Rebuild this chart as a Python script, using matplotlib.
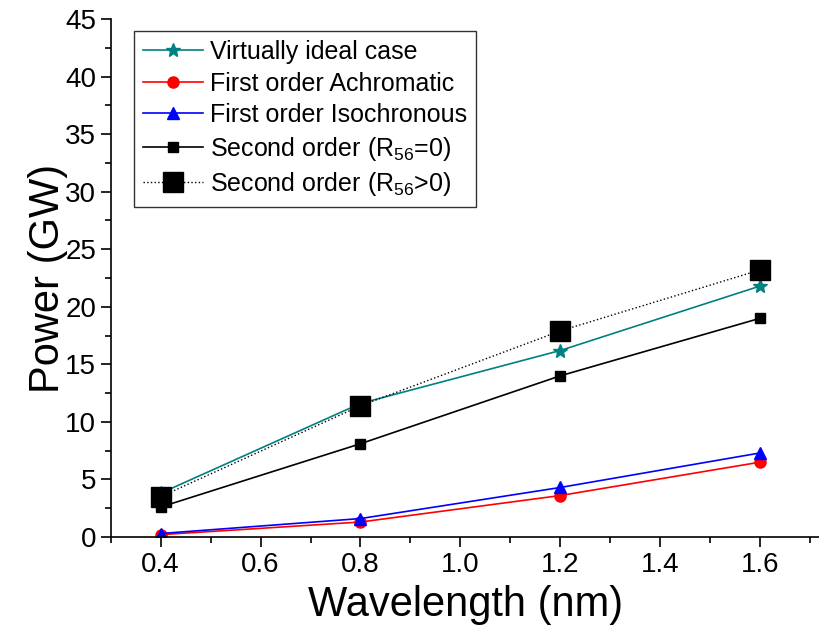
import matplotlib
matplotlib.use("Agg")
import matplotlib.pyplot as plt
from matplotlib.ticker import MultipleLocator

plt.rcParams['font.family'] = ['Liberation Sans', 'DejaVu Sans']
plt.rcParams['mathtext.fontset'] = 'custom'
plt.rcParams['mathtext.rm'] = 'Liberation Sans'

wavelength = [0.4, 0.8, 1.2, 1.6]
ideal = [3.8, 11.6, 16.2, 21.8]
achromatic = [0.2, 1.3, 3.6, 6.5]
isochronous = [0.3, 1.6, 4.3, 7.3]
second_r0 = [2.6, 8.1, 14.0, 19.0]
second_rpos = [3.5, 11.4, 17.9, 23.2]

fig = plt.figure(figsize=(8.2, 6.29), dpi=100)
ax = fig.add_axes([0.135, 0.1463, 0.865, 0.8235])

ax.plot(wavelength, ideal, color="#008080", marker="*", markersize=10, lw=1.2, label="Virtually ideal case")
ax.plot(wavelength, achromatic, color="red", marker="o", markersize=8, lw=1.2, label="First order Achromatic")
ax.plot(wavelength, isochronous, color="blue", marker="^", markersize=9, lw=1.2, label="First order Isochronous")
ax.plot(wavelength, second_r0, color="black", marker="s", markersize=7, lw=1.2, label="Second order (R$_{56}$=0)")
ax.plot(wavelength, second_rpos, color="black", marker="s", markersize=14, lw=1.0, ls=":", label="Second order (R$_{56}$>0)")

ax.set_xlim(0.3, 1.72)
ax.set_ylim(0, 45)
ax.xaxis.set_major_locator(MultipleLocator(0.2))
ax.xaxis.set_minor_locator(MultipleLocator(0.1))
ax.yaxis.set_major_locator(MultipleLocator(5))
ax.yaxis.set_minor_locator(MultipleLocator(2.5))
ax.xaxis.set_major_formatter(plt.FormatStrFormatter("%.1f"))
ax.tick_params(which="major", direction="out", length=7, width=1.2, labelsize=20)
ax.tick_params(which="minor", direction="out", length=4, width=1.2)
ax.spines["top"].set_visible(False)
ax.spines["right"].set_visible(False)
ax.spines["left"].set_linewidth(1.2)
ax.spines["bottom"].set_linewidth(1.2)

ax.set_xlabel("Wavelength (nm)", fontsize=30, labelpad=5)
ax.set_ylabel("Power (GW)", fontsize=30, labelpad=-2)

leg = ax.legend(loc="upper left", bbox_to_anchor=(0.015, 1.0), fontsize=18, frameon=True, fancybox=False,
                edgecolor="black", handlelength=2.4, borderpad=0.35, labelspacing=0.3, handletextpad=0.3)
leg.get_frame().set_linewidth(1.0)

plt.savefig("out.png", dpi=100)
